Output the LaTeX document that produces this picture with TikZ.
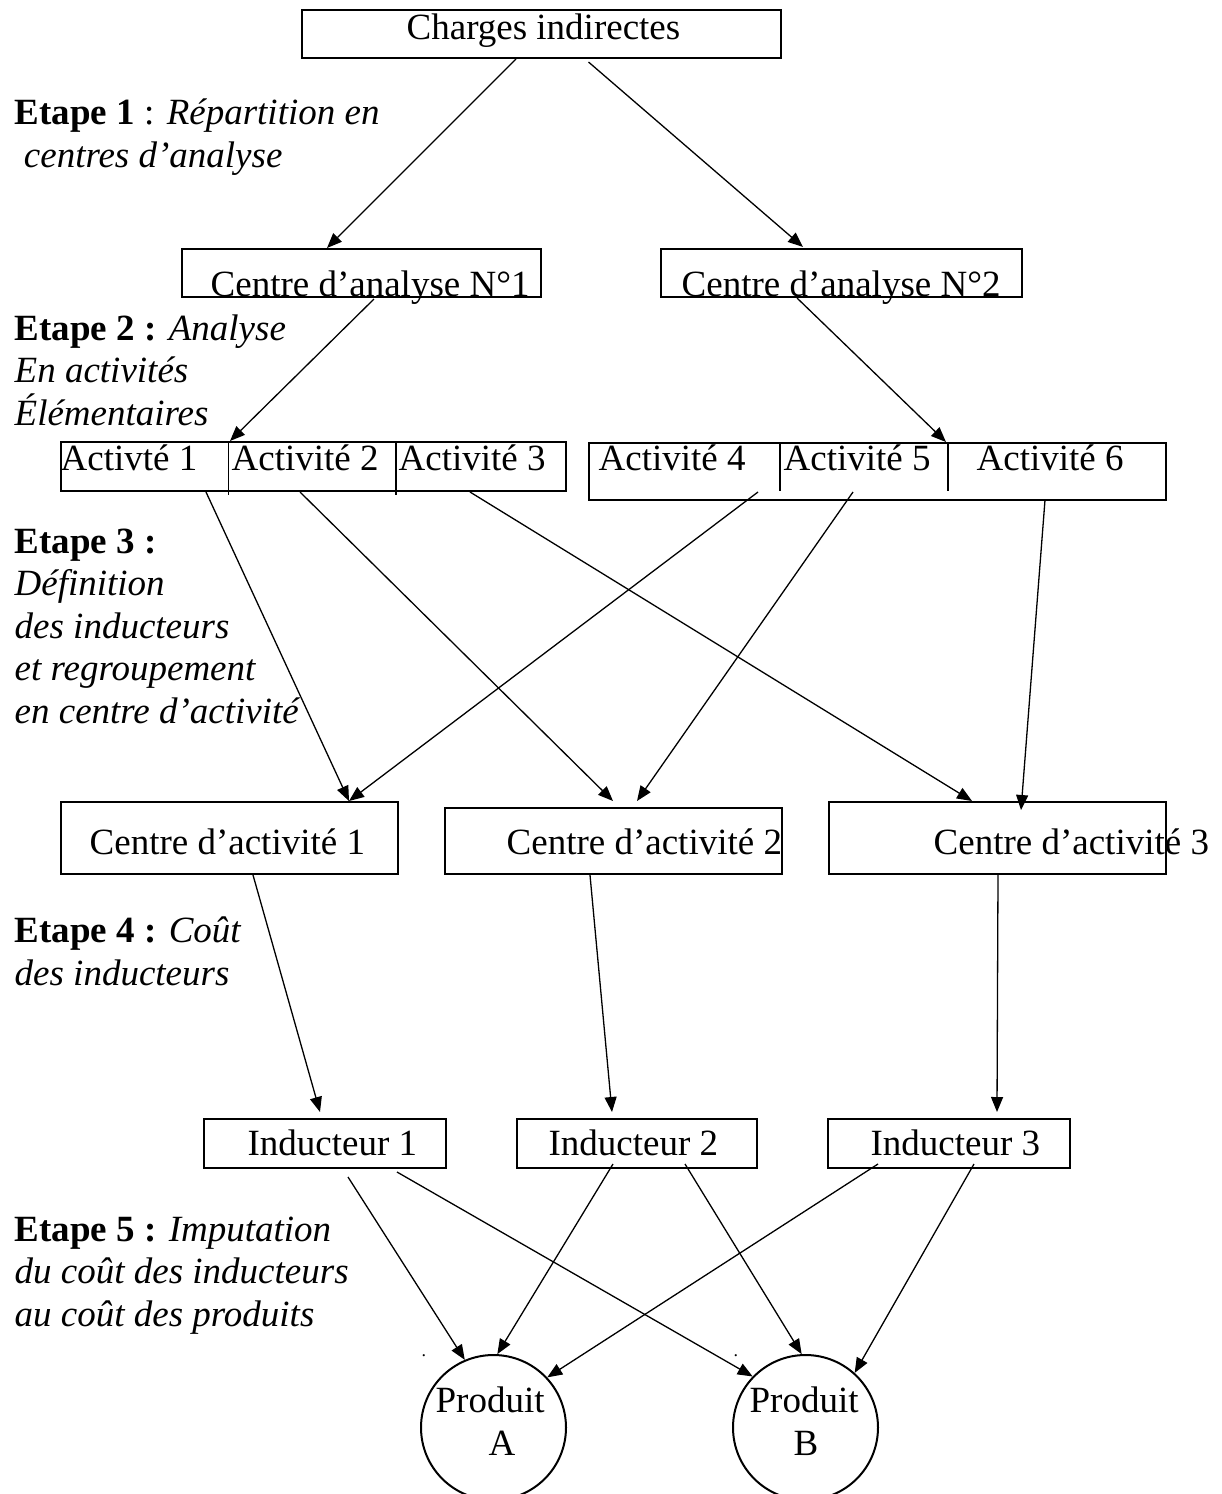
\documentclass[tikz,border=0pt]{standalone}
\usepackage{fontspec}
\setmainfont{Liberation Serif}
\usetikzlibrary{arrows.meta,calc}

\begin{document}
\begin{tikzpicture}[
x=0.5pt,
y=-0.5pt,
>={Triangle[length=7.5pt,width=6pt]},
font=\fontsize{18.5}{21.25}\selectfont,
line width=0.65pt,
box/.style={%
    rectangle,
    draw=black,
    line width=1pt,
    inner sep=0pt,
},
prod/.style={%
    circle,draw=black,line width=1pt,
    minimum size=72.5pt,inner sep=0pt,
},
txt/.style={%
    inner sep=0pt,anchor=base west,
},
etape/.style={%
    txt,align=left,
},
]
\useasboundingbox (0,0) rectangle (1221,1494);

% Boxes
\node[box,minimum width=239.5pt,minimum height=24pt]   at (541.5,34)    (charges) {};
\node[box,minimum width=179.5pt,minimum height=24pt]   at (361.5,273)   (ana1)    {};
\node[box,minimum width=180.5pt,minimum height=24pt]   at (841.5,273)   (ana2)    {};
\node[box,minimum width=252.5pt,minimum height=24.5pt] at (313.5,466.5) (acts1)   {};
\node[box,minimum width=288.5pt,minimum height=28.5pt] at (877.5,471.5) (acts2)   {};
\node[box,minimum width=168.5pt,minimum height=36pt]   at (229.5,838)   (centre1) {};
\node[box,minimum width=168.5pt,minimum height=33pt]   at (613.5,841)   (centre2) {};
\node[box,minimum width=168.5pt,minimum height=36pt]   at (997.5,838)   (centre3) {};
\node[box,minimum width=121pt,minimum height=24.5pt]   at (325,1143.5)  (ind1)    {};
\node[box,minimum width=120pt,minimum height=24.5pt]   at (637,1143.5)  (ind2)    {};
\node[box,minimum width=121pt,minimum height=24.5pt]   at (949,1143.5)  (ind3)    {};
\node[prod] at (493.5,1427.5) (prodA) {};
\node[prod] at (805.5,1427.5) (prodB) {};

% Dividers
\draw[line width=0.8pt] ($(acts1.north west)+(168.5,0)$) -- ++(0,54);
\draw[line width=0.8pt] ($(acts1.north west)+(336,0)$)   -- ++(0,54);
\draw[line width=0.8pt] ($(acts2.north west)+(192,0)$)   -- ++(0,49);
\draw[line width=0.8pt] ($(acts2.north west)+(360,0)$)   -- ++(0,49);

% Texts
\node[txt] at (406,39)    (chargestext) {Charges indirectes};
\node[txt] at (210,296)   (ana1text)    {Centre d’analyse N°1};
\node[txt] at (681,296)   (ana2text)    {Centre d’analyse N°2};
\node[txt] at (60,470)    (act1)        {Activté 1};
\node[txt] at (231,470)   (act2)        {Activité 2};
\node[txt] at (398,470)   (act3)        {Activité 3};
\node[txt] at (598,470)   (act4)        {Activité 4};
\node[txt] at (783,470)   (act5)        {Activité 5};
\node[txt] at (976,470)   (act6)        {Activité 6};
\node[txt] at (89,854)    (centre1text) {Centre d’activité 1};
\node[txt] at (506,854)   (centre2text) {Centre d’activité 2};
\node[txt] at (933,854)   (centre3text) {Centre d’activité 3};
\node[txt] at (247,1155)  (ind1text)    {Inducteur 1};
\node[txt] at (548,1155)  (ind2text)    {Inducteur 2};
\node[txt] at (870,1155)  (ind3text)    {Inducteur 3};
\node[txt] at (435,1412)  (prodAtop)    {Produit};
\node[txt] at (488,1455)  (prodAbot)    {A};
\node[txt] at (749,1412)  (prodBtop)    {Produit};
\node[txt] at (793,1455)  (prodBbot)    {B};
\node[txt,font=\fontsize{9}{9}\selectfont] at (421,1356) (dotA) {.};
\node[txt,font=\fontsize{9}{9}\selectfont] at (733,1356) (dotB) {.};

% Steps (placed at the baseline of their last line)
\node[etape] at (14,167)  (etape1) {\textbf{Etape 1} : \textit{Répartition en}\\\hspace*{0.25em}\textit{centres d’analyse}};
\node[etape] at (14,425)  (etape2) {\textbf{Etape 2 :} \textit{Analyse}\\\textit{En activités}\\\textit{Élémentaires}};
\node[etape] at (14,723)  (etape3) {\textbf{Etape 3 :}\\\textit{Définition}\\\textit{des inducteurs}\\\textit{et regroupement}\\\textit{en centre d’activité}};
\node[etape] at (14,985)  (etape4) {\textbf{Etape 4 :} \textit{Coût}\\\textit{des inducteurs}};
\node[etape] at (14,1326) (etape5) {\textbf{Etape 5 :} \textit{Imputation}\\\textit{du coût des inducteurs}\\\textit{au coût des produits}};

% Arrows
\draw[->] ($(charges.south)+(-25.5,0)$) -- ($(ana1.north)+(-34.5,0)$);
\draw[->] ($(charges.south)+(47,3)$)    -- ($(ana2.north)+(-38.5,-1)$);
\draw[->] ($(ana1.south)+(12.5,1)$)     -- ($(acts1.north)+(-83.5,0)$);
\draw[->] ($(ana2.south)+(-44.5,0)$)    -- ($(acts2.north)+(68.5,0)$);

\draw[->] ($(acts1.south)+(-107.5,0)$)  -- ($(centre1.north)+(119.5,0)$);
\draw[->] ($(acts1.south)+(-13.5,0)$)   -- ($(centre2.north)+(-0.5,-6)$);
\draw[->] ($(acts1.south)+(156.5,0)$)   -- ($(centre3.north)+(-25.5,0)$);
\draw[->] ($(acts2.south)+(-119.5,-9)$) -- ($(centre1.north)+(119.5,0)$);
\draw[->] ($(acts2.south)+(-24.5,-9)$)  -- ($(centre2.north)+(23.5,-6)$);
\draw[->] ($(acts2.south)+(167.5,-1)$)  -- ($(centre3.north)+(23.5,9)$);

\draw[->] ($(centre1.south)+(23.5,0)$)  -- ($(ind1.north)+(-5,-6)$);
\draw[->] ($(centre2.south)+(-23.5,0)$) -- ($(ind2.north)+(-25,-6)$);
\draw[->] ($(centre3.south)+(0.5,0)$)   -- ($(ind3.north)+(48,-6)$);

\draw[->] ($(ind1.south)+(23,8)$)   -- (prodA.113);
\draw[->] ($(ind1.south)+(72,3)$)   -- (prodB.136);
\draw[->] ($(ind2.south)+(-24,-5)$) -- (prodA.87);
\draw[->] ($(ind2.south)+(48,-5)$)  -- (prodB.93);
\draw[->] ($(ind3.south)+(-71,-5)$) -- (prodA.43);
\draw[->] ($(ind3.south)+(25,-5)$)  -- (prodB.48);
\end{tikzpicture}
\end{document}
